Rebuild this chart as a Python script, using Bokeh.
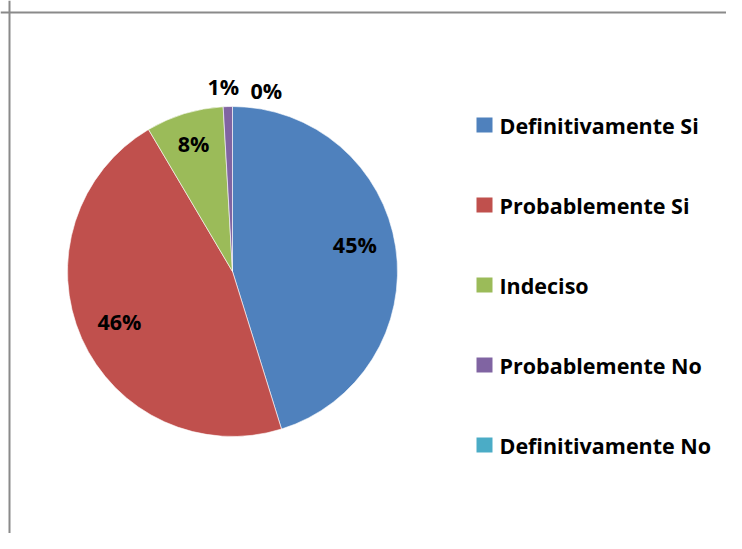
import math
from bokeh.plotting import figure
from bokeh.models import Range1d, Span, ColumnDataSource
from bokeh.core.properties import value
from bokeh.embed import file_html
from bokeh.resources import INLINE

categories = ["Definitivamente Si", "Probablemente Si", "Indeciso", "Probablemente No", "Definitivamente No"]
values = [45.2, 46.3, 7.6, 0.9, 0.0]
colors = ["#4F81BD", "#C0504D", "#9BBB59", "#8064A2", "#4BACC6"]

W, H = 726, 533
FONT = "Open Sans"
cx, cy, R = 232, 262, 165

p = figure(width=W, height=H, output_backend="svg", toolbar_location=None,
           x_range=Range1d(0, W), y_range=Range1d(0, H), min_border=0)
p.axis.visible = False
p.grid.visible = False
p.outline_line_color = None
p.background_fill_color = "white"

total = sum(values)
starts, ends, fracs = [], [], []
cum = 0.0
for v in values:
    f = v / total
    starts.append(math.pi / 2 - cum * 2 * math.pi)
    cum += f
    ends.append(math.pi / 2 - cum * 2 * math.pi)
    fracs.append(f)

keep = [i for i, v in enumerate(values) if v > 0]
src = ColumnDataSource(dict(start=[starts[i] for i in keep], end=[ends[i] for i in keep],
                            color=[colors[i] for i in keep], cat=[categories[i] for i in keep]))
p.wedge(x=cx, y=cy, radius=R, start_angle="start", end_angle="end", direction="clock",
        fill_color="color", line_color="white", line_width=0.6, source=src)

# percentage labels
lx, ly, lt = [], [], []
prev_out = None
for s, e, f in zip(starts, ends, fracs):
    mid = (s + e) / 2
    if f >= 0.05:
        r = R * (0.75 if f > 0.2 else 0.81)
        x, y = cx + r * math.cos(mid), cy + r * math.sin(mid)
        if f > 0.2 and math.cos(mid) > 0:
            y += 8
    else:
        r = R * 1.12
        x, y = cx + r * math.cos(mid) - 4, cy + r * math.sin(mid)
        if prev_out is not None and abs(x - prev_out[0]) < 40:
            x = prev_out[0] + 43
            y = prev_out[1] - 4
        prev_out = (x, y)
    lx.append(x)
    ly.append(y)
    lt.append(f"{f * 100:.0f}%")

p.text(x=lx, y=ly, text=lt, text_font=value(FONT), text_font_style="bold",
       text_font_size="21.5px", text_align="center", text_baseline="middle", text_color="black")

# legend
leg_y = [408.5 - i * 80 for i in range(len(categories))]
p.rect(x=[484] * len(categories), y=leg_y, width=16, height=15, fill_color=colors, line_color=None)
p.text(x=[499] * len(categories), y=leg_y, text=categories, text_font=value(FONT),
       text_font_style="bold", text_font_size="21.5px", text_align="left",
       text_baseline="middle", text_color="black")

# chart border (cropped: only left and top visible)
p.add_layout(Span(location=9, dimension="height", line_color="#8a8a8a", line_width=2))
p.add_layout(Span(location=521, dimension="width", line_color="#8a8a8a", line_width=2))

open("out.html", "w").write(file_html(p, INLINE))
